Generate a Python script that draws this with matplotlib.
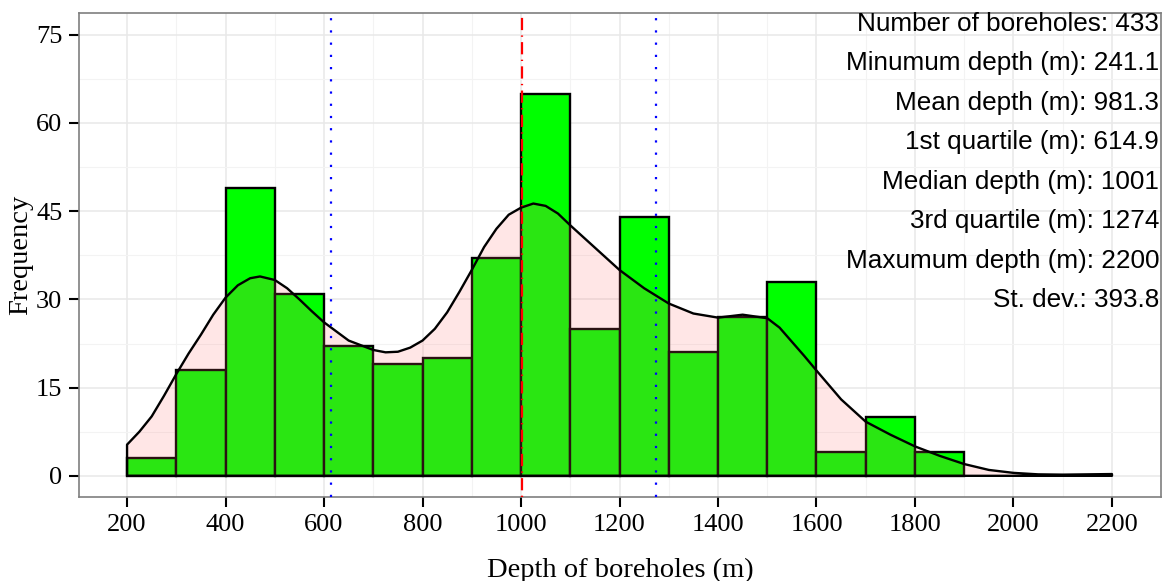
import numpy as np
import matplotlib
matplotlib.use("Agg")
import matplotlib.pyplot as plt

# histogram bins (100 m wide) and counts
bin_left = [200, 300, 400, 500, 600, 700, 800, 900, 1000, 1100,
            1200, 1300, 1400, 1500, 1600, 1700, 1800]
counts = [3, 18, 49, 31, 22, 19, 20, 37, 65, 25, 44, 21, 27, 33, 4, 10, 4]
bin_width = 100

# density curve (scaled to counts)
dens_x = [200, 225, 250, 275, 300, 325, 350, 375, 400, 425, 450, 470, 500,
          525, 550, 575, 600, 650, 700, 725, 750, 775, 800, 825, 850, 875,
          900, 925, 950, 975, 1000, 1025, 1050, 1075, 1100, 1150, 1200, 1250,
          1300, 1350, 1400, 1450, 1500, 1525, 1550, 1575, 1600, 1650, 1700,
          1750, 1800, 1850, 1900, 1950, 2000, 2050, 2100, 2150, 2200]
dens_y = [5.3, 7.5, 10.1, 13.6, 17.3, 20.8, 24.0, 27.4, 30.3, 32.4, 33.6,
          33.9, 33.3, 31.9, 30.0, 28.0, 26.1, 23.0, 21.4, 21.0, 21.1, 21.8,
          23.0, 25.0, 27.8, 31.3, 35.0, 38.9, 42.0, 44.4, 45.6, 46.3, 45.9,
          44.6, 42.6, 38.8, 35.0, 31.9, 29.3, 27.6, 26.9, 27.4, 26.8, 25.2,
          22.8, 20.4, 17.9, 13.0, 9.2, 7.0, 5.0, 3.4, 2.0, 1.0, 0.5, 0.25,
          0.2, 0.25, 0.3]

q1, median, q3 = 614.9, 1001, 1274

stats_lines = [
    "Number of boreholes: 433",
    "Minumum depth (m): 241.1",
    "Mean depth (m): 981.3",
    "1st quartile (m): 614.9",
    "Median depth (m): 1001",
    "3rd quartile (m): 1274",
    "Maxumum depth (m): 2200",
    "St. dev.: 393.8",
]

fig = plt.figure(figsize=(11.64, 5.81), dpi=100)
ax = fig.add_axes([0.0679, 0.1446, 0.9295, 0.833])

# theme_bw look
ax.set_axisbelow(True)
ax.set_xticks(range(200, 2201, 200))
ax.set_xticks(range(100, 2301, 100), minor=True)
ax.set_yticks([0, 15, 30, 45, 60, 75])
ax.set_yticks(np.arange(7.5, 78, 15), minor=True)
ax.grid(True, which="major", color="#e8e8e8", linewidth=1.1)
ax.grid(True, which="minor", color="#f3f3f3", linewidth=0.8)
for sp in ax.spines.values():
    sp.set_color("#7f7f7f")
    sp.set_linewidth(1.2)
ax.tick_params(which="major", length=7, width=1.5, color="black", pad=5,
               labelsize=19)
ax.tick_params(which="minor", length=0)
for lab in ax.get_xticklabels() + ax.get_yticklabels():
    lab.set_family("Liberation Serif")

# histogram
ax.bar(bin_left, counts, width=bin_width, align="edge",
       color="#00ff00", edgecolor="black", linewidth=1.7, zorder=2)

# density overlay
px = [dens_x[0]] + dens_x + [dens_x[-1]]
py = [0] + dens_y + [0]
ax.fill(px, py, facecolor="#ff7070", alpha=0.17, zorder=3)
ax.fill(px, py, facecolor="none", edgecolor="black", linewidth=1.7,
        joinstyle="round", zorder=4)

# quartile / median lines
ax.axvline(median, color="red", linewidth=1.6,
           linestyle=(0, (0.6, 2.4, 5.5, 2.4)), zorder=5)
for q in (q1, q3):
    ax.axvline(q, color="blue", linewidth=1.6, linestyle=(0, (1, 4.5)),
               zorder=5)

# summary statistics
for i, line in enumerate(stats_lines):
    ax.text(2296, 75.7 - 6.72 * i, line, ha="right", va="baseline",
            fontsize=18.8, family="Liberation Sans", zorder=6)

ax.set_xlim(102.5, 2299.5)
ax.set_ylim(-3.6, 78.7)
ax.set_xlabel("Depth of boreholes (m)", family="Liberation Serif",
              fontsize=20.5, labelpad=16)
ax.set_ylabel("Frequency", family="Liberation Serif", fontsize=20.5,
              labelpad=2)

fig.savefig("out.png", dpi=100)
